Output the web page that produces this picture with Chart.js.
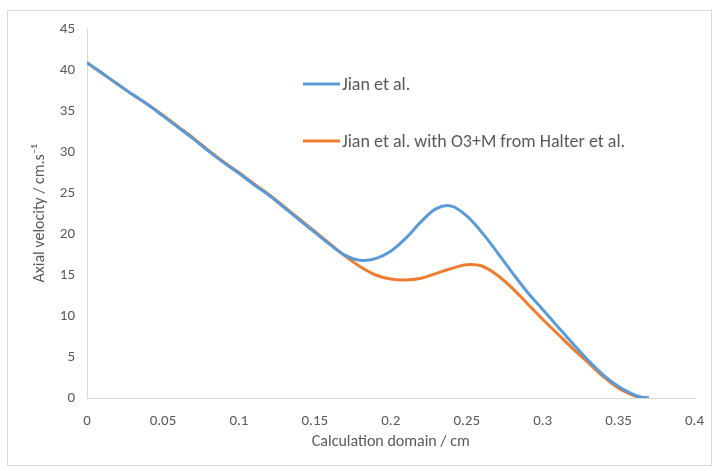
<!DOCTYPE html>
<html>
<head>
<meta charset="utf-8">
<script src="https://cdn.jsdelivr.net/npm/chart.js@4.4.1/dist/chart.umd.min.js"></script>
<style>
  html, body { margin: 0; padding: 0; background: #fff; }
  #wrap { position: relative; width: 718px; height: 471px; }
</style>
</head>
<body>
<div id="wrap"><canvas id="myChart" width="718" height="471"></canvas></div>
<script>
// values
const xValues = [0, 0.01, 0.02, 0.03, 0.04, 0.05, 0.06, 0.07, 0.08, 0.09,
                 0.1, 0.11, 0.12, 0.13, 0.14, 0.15, 0.16, 0.17, 0.18, 0.19,
                 0.2, 0.21, 0.22, 0.23, 0.24, 0.25, 0.26, 0.27, 0.28, 0.29,
                 0.3, 0.31, 0.32, 0.33, 0.34, 0.35, 0.36, 0.365, 0.37];
const jianValues = [40.9, 39.6, 38.3, 37.0, 35.8, 34.4, 33.0, 31.6, 30.1, 28.7,
                    27.4, 26.0, 24.7, 23.2, 21.7, 20.2, 18.7, 17.4, 16.8, 17.0,
                    17.9, 19.5, 21.5, 23.1, 23.4, 22.2, 20.2, 17.8, 15.3, 12.9,
                    10.8, 8.7, 6.6, 4.6, 2.8, 1.4, 0.4, 0.1, 0];
const halterValues = [40.9, 39.6, 38.3, 37.0, 35.8, 34.5, 33.1, 31.7, 30.2, 28.8,
                      27.5, 26.1, 24.8, 23.3, 21.8, 20.3, 18.8, 17.3, 16.0, 15.0,
                      14.5, 14.4, 14.6, 15.2, 15.8, 16.25, 16.1, 15.0, 13.4, 11.5,
                      9.6, 7.8, 6.0, 4.3, 2.6, 1.2, 0.3, 0.05, 0];
const seriesLabels = ['Jian et al.', 'Jian et al. with O3+M from Halter et al.'];
const seriesColors = ['#5B9BD5', '#ED7D31'];

const FONT = 'Carlito, Lato, "Open Sans", sans-serif';
const GREY = '#595959';

function toPoints(ys) {
  return xValues.map((x, i) => ({ x: x, y: ys[i] }));
}

const data = {
  datasets: [
    { label: seriesLabels[0], data: toPoints(jianValues), borderColor: seriesColors[0],
      backgroundColor: seriesColors[0], borderWidth: 3, pointRadius: 0, fill: false,
      tension: 0.35 },
    { label: seriesLabels[1], data: toPoints(halterValues), borderColor: seriesColors[1],
      backgroundColor: seriesColors[1], borderWidth: 3, pointRadius: 0, fill: false,
      tension: 0.35 }
  ]
};

// legend drawn inside the plot, frame round the whole chart
const extras = {
  id: 'extras',
  afterDraw(chart) {
    const c = chart.ctx;
    c.save();
    c.strokeStyle = '#d9d9d9';
    c.lineWidth = 1;
    c.strokeRect(7.5, 10.5, 704, 455);
    const rows = [84, 141];
    c.font = '18px ' + FONT;
    c.textBaseline = 'middle';
    chart.data.datasets.forEach((ds, i) => {
      c.strokeStyle = ds.borderColor;
      c.lineWidth = 3;
      c.beginPath();
      c.moveTo(303, rows[i]);
      c.lineTo(340, rows[i]);
      c.stroke();
      c.fillStyle = GREY;
      c.fillText(ds.label, 342, rows[i] + 1);
    });
    c.restore();
  }
};

const config = {
  type: 'line',
  data,
  options: {
    responsive: false,
    animation: false,
    layout: { padding: { left: 30, right: 21, top: 29, bottom: 14 } },
    plugins: { legend: { display: false }, tooltip: { enabled: false } },
    scales: {
      x: {
        type: 'linear', min: 0, max: 0.4,
        afterFit: s => { s.height = 59; },
        grid: { display: false, drawTicks: false },
        border: { display: true, color: '#d9d9d9', width: 1 },
        ticks: { stepSize: 0.05, color: GREY, font: { family: FONT, size: 15 }, padding: 14,
                 maxRotation: 0,
                 callback: v => Number(v.toFixed(2)).toString() },
        title: { display: true, text: 'Calculation domain / cm', color: GREY,
                 font: { family: FONT, size: 16 }, padding: { top: 4, bottom: 5 } }
      },
      y: {
        min: 0, max: 45,
        afterFit: s => { s.width = 57; },
        grid: { display: false, drawTicks: false },
        border: { display: true, color: '#d9d9d9', width: 1 },
        ticks: { stepSize: 5, color: GREY, font: { family: FONT, size: 15 }, padding: 12 },
        title: { display: true, text: 'Axial velocity / cm.s\u207B\u00B9', color: GREY,
                 font: { family: FONT, size: 16 }, padding: { top: 0, bottom: 4 } }
      }
    }
  },
  plugins: [extras]
};

var myChart = new Chart(document.getElementById('myChart').getContext('2d'), config);
</script>
</body>
</html>
